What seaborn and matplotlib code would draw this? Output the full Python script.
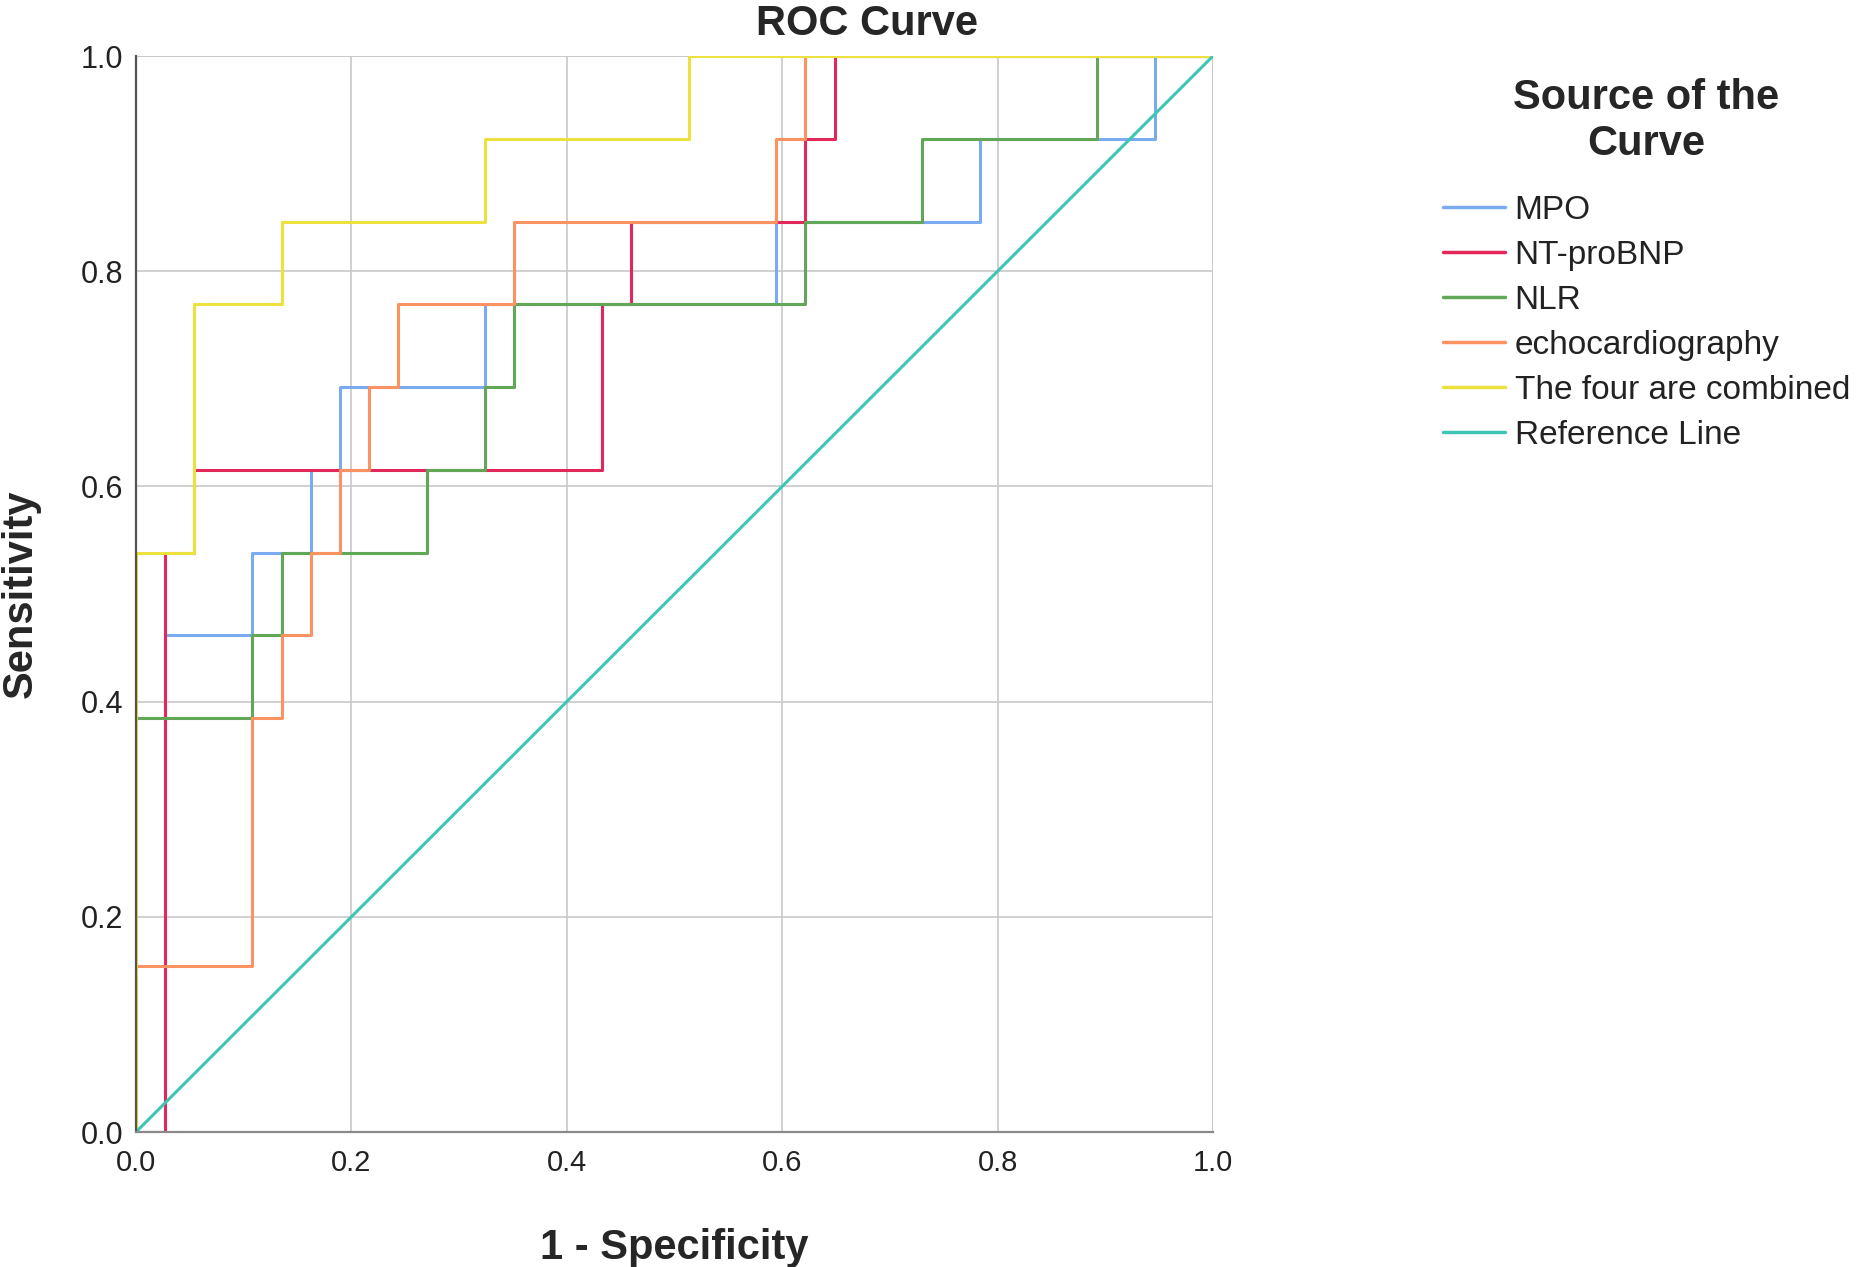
import matplotlib
matplotlib.use("Agg")
import matplotlib.pyplot as plt
import seaborn as sns
import pandas as pd
import numpy as np

# ---------------- data (vertices of each ROC staircase) ----------------
curve_names = ["MPO", "NT-proBNP", "NLR", "echocardiography",
               "The four are combined", "Reference Line"]

mpo_fpr = [0, 1/37, 1/37, 4/37, 4/37, 6/37, 6/37, 7/37, 7/37, 12/37, 12/37,
           22/37, 22/37, 29/37, 29/37, 35/37, 35/37, 1]
mpo_tpr = [0, 0, 6/13, 6/13, 7/13, 7/13, 8/13, 8/13, 9/13, 9/13, 10/13,
           10/13, 11/13, 11/13, 12/13, 12/13, 1, 1]

ntp_fpr = [0, 1/37, 1/37, 2/37, 2/37, 16/37, 16/37, 17/37, 17/37, 23/37,
           23/37, 24/37, 24/37, 1]
ntp_tpr = [0, 0, 7/13, 7/13, 8/13, 8/13, 10/13, 10/13, 11/13, 11/13,
           12/13, 12/13, 1, 1]

nlr_fpr = [0, 0, 4/37, 4/37, 5/37, 5/37, 10/37, 10/37, 12/37, 12/37, 13/37,
           13/37, 23/37, 23/37, 27/37, 27/37, 33/37, 33/37, 1]
nlr_tpr = [0, 5/13, 5/13, 6/13, 6/13, 7/13, 7/13, 8/13, 8/13, 9/13, 9/13,
           10/13, 10/13, 11/13, 11/13, 12/13, 12/13, 1, 1]

echo_fpr = [0, 0, 4/37, 4/37, 5/37, 5/37, 6/37, 6/37, 7/37, 7/37, 8/37, 8/37,
            9/37, 9/37, 13/37, 13/37, 22/37, 22/37, 23/37, 23/37, 1]
echo_tpr = [0, 2/13, 2/13, 5/13, 5/13, 6/13, 6/13, 7/13, 7/13, 8/13, 8/13,
            9/13, 9/13, 10/13, 10/13, 11/13, 11/13, 12/13, 12/13, 1, 1]

comb_fpr = [0, 0, 2/37, 2/37, 5/37, 5/37, 12/37, 12/37, 19/37, 19/37, 1]
comb_tpr = [0, 7/13, 7/13, 10/13, 10/13, 11/13, 11/13, 12/13, 12/13, 1, 1]

ref_fpr = [0, 1]
ref_tpr = [0, 1]

curve_colors = ["#7aaaf0", "#e2285a", "#62a658", "#fa9262", "#ece13e", "#3ec6b4"]

tick_values = [0.0, 0.2, 0.4, 0.6, 0.8, 1.0]
tick_labels = ["0.0", "0.2", "0.4", "0.6", "0.8", "1.0"]

# ---------------- build long table ----------------
frames = []
for name, fx, fy in zip(curve_names,
                        [mpo_fpr, ntp_fpr, nlr_fpr, echo_fpr, comb_fpr, ref_fpr],
                        [mpo_tpr, ntp_tpr, nlr_tpr, echo_tpr, comb_tpr, ref_tpr]):
    frames.append(pd.DataFrame({"fpr": fx, "tpr": fy, "curve": name,
                                "order": np.arange(len(fx))}))
df = pd.concat(frames, ignore_index=True)

sns.set_theme(style="white")
plt.rcParams["font.family"] = ["Liberation Sans", "DejaVu Sans"]

fig = plt.figure(figsize=(18.59, 12.67), dpi=100)
ax = fig.add_axes([136/1859, 1 - 1132/1267, 1077/1859, 1076/1267])

sns.lineplot(data=df, x="fpr", y="tpr", hue="curve", hue_order=curve_names,
             palette=dict(zip(curve_names, curve_colors)), sort=False,
             estimator=None, units="curve", linewidth=2.2, ax=ax, legend=True)

ax.set_xlim(0, 1)
ax.set_ylim(0, 1)
ax.set_xticks(tick_values)
ax.set_yticks(tick_values)
ax.set_xticklabels(tick_labels, family=["Liberation Sans Narrow", "Liberation Sans"],
                   fontsize=21, color="#222222")
ax.set_yticklabels(tick_labels, fontsize=22, color="#222222")
ax.tick_params(axis="both", length=0, pad=9)
ax.tick_params(axis="x", pad=12)

ax.grid(True, color="#c8c8c8", linewidth=1.2)
ax.set_axisbelow(True)
for s in ["top", "right"]:
    ax.spines[s].set_visible(False)
ax.spines["left"].set_color("#555555")
ax.spines["left"].set_linewidth(1.6)
ax.spines["bottom"].set_color("#8a8a8a")
ax.spines["bottom"].set_linewidth(1.6)
# grid lines at top/right edges
ax.axhline(1.0, color="#c8c8c8", linewidth=1.2, zorder=0.5)
ax.axvline(1.0, color="#c8c8c8", linewidth=1.2, zorder=0.5)

ax.set_title("ROC Curve", fontsize=30, fontweight="bold", x=0.679, pad=15)
ax.set_xlabel("1 - Specificity", fontsize=30, fontweight="bold",
              family=["Liberation Sans Narrow", "Liberation Sans"])
ax.xaxis.set_label_coords(0.5, -0.089)
ax.set_ylabel("Sensitivity", fontsize=30, fontweight="bold",
              family=["Liberation Sans Narrow", "Liberation Sans"])
ax.yaxis.set_label_coords(-0.088, 0.5)

handles, labels = ax.get_legend_handles_labels()
leg = ax.legend(handles, labels, title="Source of the\nCurve",
                loc="upper left", bbox_to_anchor=(1443/1859, 1 - 78/1267),
                bbox_transform=fig.transFigure, frameon=False,
                fontsize=24, title_fontproperties={"size": 30, "weight": "bold"},
                handlelength=1.85, handletextpad=0.3, labelspacing=0.42,
                borderpad=0, borderaxespad=0)
leg._legend_title_box._text.set_multialignment("center")
leg._legend_box.sep = 22
for line in leg.get_lines():
    line.set_linewidth(2.5)
for t in leg.get_texts():
    t.set_color("#222222")

fig.savefig("out.png", dpi=100)
